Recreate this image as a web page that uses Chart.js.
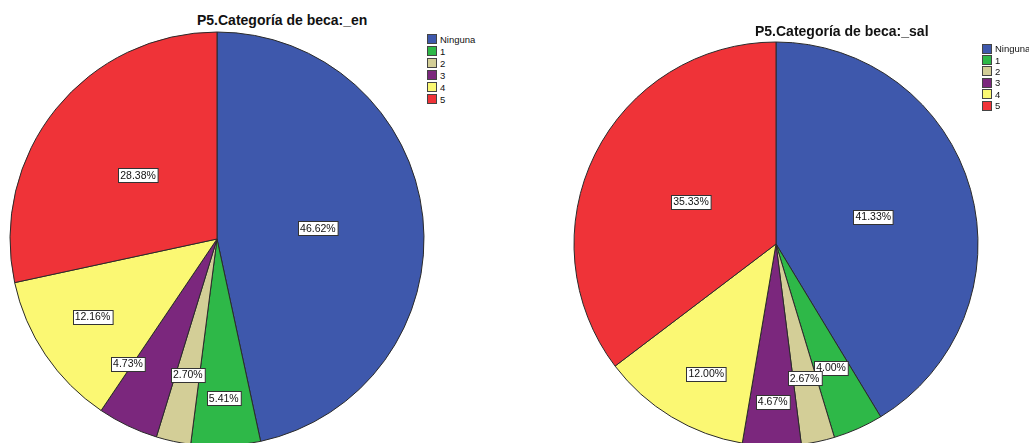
<!DOCTYPE html>
<html>
<head>
<meta charset="utf-8">
<script src="https://cdn.jsdelivr.net/npm/chart.js@4"></script>
<style>
  html, body { margin: 0; padding: 0; background: #fff; }
  body { position: relative; width: 1029px; height: 443px; overflow: hidden; font-family: "Liberation Sans", Arial, sans-serif; }
  canvas { position: absolute; }
  .title { position: absolute; font-weight: bold; font-size: 14px; color: #111; white-space: nowrap; z-index: 2; }
  .legend { position: absolute; font-size: 9.5px; color: #111; z-index: 2; }
  .legend .row { display: flex; align-items: center; height: 12px; }
  .legend .box { width: 8px; height: 8px; border: 1px solid #444; margin-right: 3px; }
</style>
</head>
<body>
<div class="title" id="titleEn" style="left:197px; top:12px;">P5.Categoría de beca:_en</div>
<div class="title" id="titleSal" style="left:755px; top:23px;">P5.Categoría de beca:_sal</div>
<div class="legend" id="legendEn" style="left:427px; top:33px;"></div>
<div class="legend" id="legendSal" style="left:982px; top:43px;"></div>
<canvas id="pieEn" width="420" height="420" style="left:7px; top:29px;"></canvas>
<canvas id="pieSal" width="420" height="420" style="left:566px; top:34px;"></canvas>
<script>
// categories and colours
const categories = ['Ninguna', '1', '2', '3', '4', '5'];
const sliceColors = ['#3E58AC', '#2EB848', '#D3CE97', '#7B277D', '#FBF873', '#EF3338'];

// percentages
const valuesEn = [46.62, 5.41, 2.70, 4.73, 12.16, 28.38];
const valuesSal = [41.33, 4.00, 2.67, 4.67, 12.00, 35.33];

// label placement: fraction of radius, and small angle shift (degrees) to keep boxes apart
const labelDistEn = [0.49, 0.77, 0.67, 0.74, 0.71, 0.49];
const labelShiftEn = [0, 0, 0, 10, 2, 0];
const labelDistSal = [0.5, 0.67, 0.68, 0.78, 0.73, 0.47];
const labelShiftSal = [0, 0, 0, 0, -3, 0];

// draws the white boxed percentage label on every slice
const boxLabels = {
  id: 'boxLabels',
  afterDatasetsDraw(chart, args, opts) {
    const ctx = chart.ctx;
    const meta = chart.getDatasetMeta(0);
    const data = chart.data.datasets[0].data;
    ctx.save();
    ctx.font = '10.5px "Liberation Sans", Arial, sans-serif';
    ctx.textAlign = 'center';
    ctx.textBaseline = 'middle';
    meta.data.forEach((arc, i) => {
      const p = arc.getProps(['x', 'y', 'startAngle', 'endAngle', 'outerRadius'], true);
      const mid = (p.startAngle + p.endAngle) / 2 + opts.shift[i] * Math.PI / 180;
      const r = p.outerRadius * opts.dist[i];
      const cx = p.x + Math.cos(mid) * r;
      const cy = p.y + Math.sin(mid) * r;
      const text = data[i].toFixed(2) + '%';
      const w = ctx.measureText(text).width + 4;
      const h = 14;
      const bx = Math.round(cx - w / 2) + 0.5;
      const by = Math.round(cy - h / 2) + 0.5;
      ctx.fillStyle = '#fff';
      ctx.fillRect(bx, by, w, h);
      ctx.strokeStyle = '#333';
      ctx.lineWidth = 1;
      ctx.strokeRect(bx, by, w, h);
      ctx.fillStyle = '#111';
      ctx.fillText(text, cx, cy + 0.5);
    });
    ctx.restore();
  }
};

function makePie(id, values, dist, shift, radius) {
  return new Chart(document.getElementById(id), {
    type: 'pie',
    data: {
      labels: categories,
      datasets: [{
        data: values,
        backgroundColor: sliceColors,
        borderColor: '#2a2a2a',
        borderWidth: 1
      }]
    },
    options: {
      responsive: false,
      animation: false,
      radius: radius,
      layout: { padding: 0 },
      plugins: {
        legend: { display: false },
        title: { display: false },
        tooltip: { enabled: false },
        boxLabels: { dist: dist, shift: shift }
      }
    },
    plugins: [boxLabels]
  });
}

function makeLegend(id, rowHeight) {
  const el = document.getElementById(id);
  categories.forEach((name, i) => {
    const row = document.createElement('div');
    row.className = 'row';
    row.style.height = rowHeight + 'px';
    row.innerHTML = '<span class="box" style="background:' + sliceColors[i] + '"></span>' + name;
    el.appendChild(row);
  });
}

makePie('pieEn', valuesEn, labelDistEn, labelShiftEn, 207);
makePie('pieSal', valuesSal, labelDistSal, labelShiftSal, 202);
makeLegend('legendEn', 12);
makeLegend('legendSal', 11.4);
</script>
</body>
</html>
